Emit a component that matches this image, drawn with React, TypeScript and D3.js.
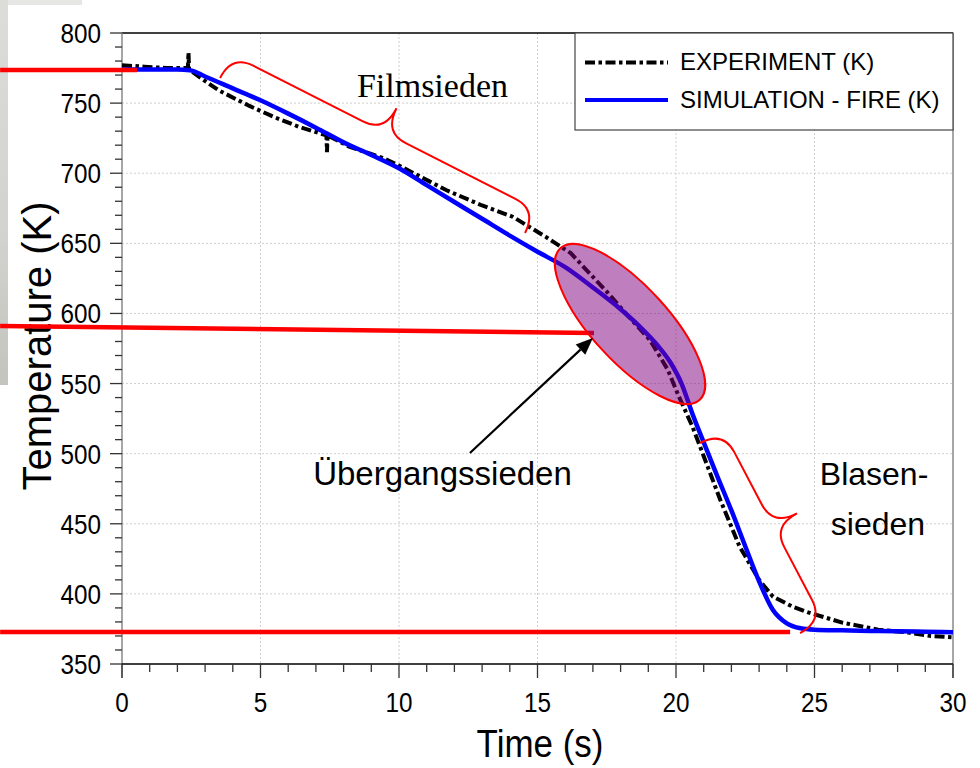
import React from "react";
import * as d3 from "d3";

// Quench test: surface temperature over time, experiment vs. FIRE simulation
const timeSim = [0, 1, 2, 2.45, 3, 4, 5, 6, 7, 8, 9, 10, 11, 12, 13, 14, 15, 16, 17, 18, 18.7, 19.3, 19.8, 20.2, 20.6, 21, 21.5, 22, 22.5, 23, 23.5, 24, 24.5, 25, 26, 27, 28, 29, 30];
const tempSim = [774, 774, 774, 773.5, 769, 760.5, 752, 742.5, 732.5, 722, 713, 703.5, 691.5, 679.5, 667.5, 655.5, 644, 633, 618.5, 603, 590.5, 578, 565, 550, 528, 508, 483.5, 459.5, 434, 409, 388.5, 379, 375.5, 374.5, 374, 373.6, 373.3, 373, 372.6];

const timeExp = [0, 0.8, 1.6, 2.38, 2.4, 2.42, 2.8, 3.5, 4.6, 5.5, 6.4, 7.38, 7.4, 7.42, 8.2, 9.4, 10, 11.7, 13, 14.1, 15.3, 16.2, 17.5, 18.3, 19.06, 19.7, 20.1, 20.6, 21.1, 21.6, 22.3, 23, 23.5, 24.2, 24.8, 26, 27.3, 28.4, 29.2, 30];
const tempExp = [777, 776, 775, 775, 786, 774, 768.5, 759, 748, 740, 733, 727, 715, 727, 719, 711, 705.5, 688, 677, 669, 654.6, 643, 615.5, 597.6, 581, 560, 541, 519, 493, 467, 433.6, 410, 398, 391, 386.6, 379.5, 374.5, 372.4, 370, 369];

const timeTicks = [0, 5, 10, 15, 20, 25, 30];
const tempTicks = [350, 400, 450, 500, 550, 600, 650, 700, 750, 800];
const seriesNames = ["EXPERIMENT (K)", "SIMULATION - FIRE (K)"];

// Boiling regime reference levels (time, temperature)
const refStartT = [-4.4, -4.4, -4.4];
const refStartK = [773.6, 591.0, 372.8];
const refEndT = [0.54, 17.04, 24.12];
const refEndK = [773.6, 586.0, 372.8];

// Braces spanning the film boiling and nucleate boiling stretches
const braceFrom = [[3.54, 767.9], [20.87, 507.6]];
const braceTo = [[14.55, 657.4], [24.48, 372.1]];

// Transition boiling highlight
const transitionCenter = [18.34, 592.5];
const arrowFrom = [12.56, 500.5];
const arrowTo = [17.0, 582.5];

const labelFilm = { text: "Filmsieden", t: 8.48, k: 754.4 };
const labelTransition = { text: "Übergangssieden", t: 6.9, k: 477.6 };
const labelNucleate = [
  { text: "Blasen-", t: 27.15, k: 477.6 },
  { text: "sieden", t: 27.29, k: 442.0 },
];

const W = 980;
const H = 768;
const x = d3.scaleLinear().domain([0, 30]).range([122, 953]);
const y = d3.scaleLinear().domain([350, 800]).range([664, 33]);

const SANS = "'Liberation Sans', Arial, Helvetica, sans-serif";
const SERIF = "'Liberation Serif', 'Times New Roman', serif";

function bracePath(ax: number, ay: number, bx: number, by: number, depth: number, tip: number, r: number) {
  const dx = bx - ax, dy = by - ay;
  const len = Math.hypot(dx, dy);
  const ux = dx / len, uy = dy / len;
  const nx = uy, ny = -ux;
  const P = (s: number, t: number) => [ax + ux * s + nx * t, ay + uy * s + ny * t];
  const half = len / 2;
  const p = d3.path();
  const m = P(0, 0);
  p.moveTo(m[0], m[1]);
  let c = P(0, depth), e = P(r, depth);
  p.quadraticCurveTo(c[0], c[1], e[0], e[1]);
  e = P(half - r, depth);
  p.lineTo(e[0], e[1]);
  c = P(half, depth); e = P(half, tip);
  p.quadraticCurveTo(c[0], c[1], e[0], e[1]);
  e = P(half + r, depth);
  p.quadraticCurveTo(c[0], c[1], e[0], e[1]);
  e = P(len - r, depth);
  p.lineTo(e[0], e[1]);
  c = P(len, depth); e = P(len, 0);
  p.quadraticCurveTo(c[0], c[1], e[0], e[1]);
  return p.toString();
}

export default function App() {
  const simData = timeSim.map((t, i) => [t, tempSim[i]] as [number, number]);
  const expData = timeExp.map((t, i) => [t, tempExp[i]] as [number, number]);
  const simLine = d3.line<[number, number]>().x((d) => x(d[0])).y((d) => y(d[1])).curve(d3.curveMonotoneX);
  const expLine = d3.line<[number, number]>().x((d) => x(d[0])).y((d) => y(d[1])).curve(d3.curveLinear);

  const minorT = d3.range(0, 30.001, 1).filter((v) => v % 5 !== 0);
  const minorK = d3.range(350, 800.001, 10).filter((v) => v % 50 !== 0);

  const ax1 = x(arrowFrom[0]), ay1 = y(arrowFrom[1]);
  const ax2 = x(arrowTo[0]), ay2 = y(arrowTo[1]);
  const ang = Math.atan2(ay2 - ay1, ax2 - ax1);
  const hl = 17, hw = 7;
  const bxh = ax2 - Math.cos(ang) * hl, byh = ay2 - Math.sin(ang) * hl;
  const head = `M${ax2},${ay2} L${bxh + Math.sin(ang) * hw},${byh - Math.cos(ang) * hw} L${bxh - Math.sin(ang) * hw},${byh + Math.cos(ang) * hw} Z`;

  const ex = x(transitionCenter[0]), ey = y(transitionCenter[1]);
  const dash = "10 3.5 3.5 3.5";

  return (
    <svg width={W} height={H} style={{ position: "absolute", left: 0, top: 0, background: "#fff" }} fontFamily={SANS}>
      <defs>
        <linearGradient id="strip" x1="0" y1="0" x2="0" y2="1">
          <stop offset="0" stopColor="#dcdcd8" />
          <stop offset="0.6" stopColor="#d2d2ce" />
          <stop offset="1" stopColor="#c4c4bf" />
        </linearGradient>
      </defs>
      <rect x={0} y={0} width={W} height={H} fill="#fff" />
      <rect x={0} y={0} width={82} height={5} fill="#e6e6e4" />
      <rect x={0} y={0} width={8} height={385} fill="url(#strip)" />

      {/* grid */}
      <g stroke="#cfcfcf" strokeWidth={1} strokeDasharray="2 2">
        {timeTicks.filter((t) => t > 0 && t < 30).map((t) => (
          <line key={"gx" + t} x1={x(t)} x2={x(t)} y1={y(800)} y2={y(350)} />
        ))}
        {tempTicks.filter((k) => k > 350 && k < 800).map((k) => (
          <line key={"gy" + k} x1={x(0)} x2={x(30)} y1={y(k)} y2={y(k)} />
        ))}
      </g>

      {/* frame */}
      <line x1={x(0)} x2={x(30)} y1={y(800)} y2={y(800)} stroke="#000" strokeWidth={1.5} />
      <line x1={x(30)} x2={x(30)} y1={y(800)} y2={y(350) + 14} stroke="#888" strokeWidth={1.5} />
      <line x1={x(0)} x2={x(0)} y1={y(800)} y2={y(350) + 14} stroke="#888" strokeWidth={1.5} />
      <line x1={x(0)} x2={x(30)} y1={y(350)} y2={y(350)} stroke="#000" strokeWidth={1.5} />

      {/* y ticks */}
      <g stroke="#333" strokeWidth={1.3}>
        {tempTicks.map((k) => (
          <line key={"ty" + k} x1={x(0) - 12} x2={x(0)} y1={y(k)} y2={y(k)} />
        ))}
        {minorK.map((k) => (
          <line key={"mty" + k} x1={x(0) - 7} x2={x(0)} y1={y(k)} y2={y(k)} />
        ))}
        {timeTicks.map((t) => (
          <line key={"tx" + t} x1={x(t)} x2={x(t)} y1={y(350)} y2={y(350) + 14} />
        ))}
        {minorT.map((t) => (
          <line key={"mtx" + t} x1={x(t)} x2={x(t)} y1={y(350)} y2={y(350) + 8} />
        ))}
      </g>

      {/* tick labels */}
      <g fontSize={27} fill="#000">
        {tempTicks.map((k) => (
          <text key={"ly" + k} transform={`translate(${x(0) - 21},${y(k) + 10}) scale(0.9,1)`} textAnchor="end">
            {k}
          </text>
        ))}
        {timeTicks.map((t) => (
          <text key={"lx" + t} transform={`translate(${x(t)},${712}) scale(0.9,1)`} textAnchor="middle">
            {t}
          </text>
        ))}
      </g>

      {/* axis titles */}
      <text transform="translate(51,346) rotate(-90)" textAnchor="middle" fontSize={40}>
        Temperature (K)
      </text>
      <text transform="translate(540,757) scale(0.92,1)" textAnchor="middle" fontSize={38}>
        Time (s)
      </text>

      {/* series */}
      <path d={expLine(expData) || ""} fill="none" stroke="#000" strokeWidth={4} strokeDasharray={dash} />
      <path d={simLine(simData) || ""} fill="none" stroke="#0000ff" strokeWidth={4.5} />

      {/* reference levels */}
      <g stroke="#ff0000" strokeWidth={4.5}>
        {refStartT.map((t, i) => (
          <line key={"ref" + i} x1={x(t)} y1={y(refStartK[i])} x2={x(refEndT[i])} y2={y(refEndK[i])} />
        ))}
      </g>

      {/* transition boiling highlight */}
      <ellipse cx={ex} cy={ey} rx={103} ry={38} transform={`rotate(47.4 ${ex} ${ey})`} fill="#800080" fillOpacity={0.5} stroke="#ff0000" strokeWidth={2} />

      {/* braces */}
      <g fill="none" stroke="#ff0000" strokeWidth={2}>
        {braceFrom.map((a, i) => (
          <path key={"br" + i} d={bracePath(x(a[0]), y(a[1]), x(braceTo[i][0]), y(braceTo[i][1]), 26, 53, 24)} />
        ))}
      </g>

      {/* arrow */}
      <line x1={ax1} y1={ay1} x2={bxh} y2={byh} stroke="#000" strokeWidth={2.2} />
      <path d={head} fill="#000" />

      {/* region labels */}
      <text x={x(labelFilm.t)} y={y(labelFilm.k)} fontFamily={SERIF} fontSize={34}>
        {labelFilm.text}
      </text>
      <text x={x(labelTransition.t)} y={y(labelTransition.k)} fontSize={33}>
        {labelTransition.text}
      </text>
      {labelNucleate.map((l) => (
        <text key={l.text} x={x(l.t)} y={y(l.k)} fontSize={32} textAnchor="middle">
          {l.text}
        </text>
      ))}

      {/* legend */}
      <rect x={575} y={33} width={378} height={97} fill="#fff" stroke="#444" strokeWidth={1.2} />
      <line x1={585} x2={668} y1={62.5} y2={62.5} stroke="#000" strokeWidth={4} strokeDasharray={dash} />
      <line x1={585} x2={668} y1={100} y2={100} stroke="#0000ff" strokeWidth={4} />
      <text x={680} y={70} fontSize={24}>{seriesNames[0]}</text>
      <text x={680} y={108} fontSize={24}>{seriesNames[1]}</text>
    </svg>
  );
}
